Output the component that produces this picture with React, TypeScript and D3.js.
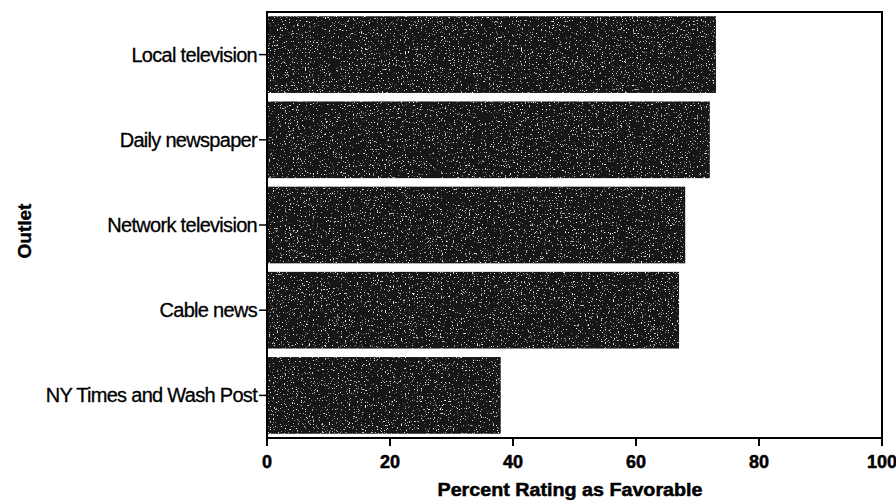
import React from "react";
import * as d3 from "d3";

const categories = ["Local television", "Daily newspaper", "Network television", "Cable news", "NY Times and Wash Post"];
const values = [73, 72, 68, 67, 38];
const xTicks = [0, 20, 40, 60, 80, 100];
const xTitle = "Percent Rating as Favorable";
const yTitle = "Outlet";

export default function App() {
  const W = 896, H = 502;
  const left = 267, right = 882, top = 12, bottom = 438;
  const x = d3.scaleLinear().domain([0, 100]).range([left, right]);
  const y = d3.scaleBand<string>().domain(categories).range([top, bottom]).paddingInner(0.1).paddingOuter(0.05);
  const font = "'Liberation Sans', Arial, sans-serif";
  return (
    <svg width={W} height={H} style={{ position: "absolute", left: 0, top: 0 }} viewBox={`0 0 ${W} ${H}`}>
      <defs>
        <filter id="grain" x="0" y="0" width="100%" height="100%">
          <feTurbulence type="fractalNoise" baseFrequency="0.75" numOctaves="2" seed="4" result="noise" />
          <feColorMatrix in="noise" type="matrix" values="0 0 0 0 1  0 0 0 0 1  0 0 0 0 1  7 0 0 0 -4.55" result="speck" />
          <feComposite in="speck" in2="SourceGraphic" operator="in" result="s2" />
          <feMerge>
            <feMergeNode in="SourceGraphic" />
            <feMergeNode in="s2" />
          </feMerge>
        </filter>
      </defs>
      <rect x={0} y={0} width={W} height={H} fill="#fff" />
      {categories.map((c, i) => (
        <rect key={c} x={x(0)} y={y(c)!} width={x(values[i]) - x(0)} height={y.bandwidth()} fill="#151515" filter="url(#grain)" />
      ))}
      <rect x={left} y={top} width={right - left} height={bottom - top} fill="none" stroke="#000" strokeWidth={2} />
      {categories.map((c) => {
        const cy = y(c)! + y.bandwidth() / 2;
        return (
          <g key={c}>
            <line x1={left - 8} x2={left} y1={cy} y2={cy} stroke="#000" strokeWidth={1.5} />
            <text x={left - 10} y={cy} dy="0.35em" textAnchor="end" fontFamily={font} fontSize={20} letterSpacing={-0.7} fill="#000" stroke="#000" strokeWidth={0.3}>{c}</text>
          </g>
        );
      })}
      {xTicks.map((t) => (
        <g key={t}>
          <line x1={x(t)} x2={x(t)} y1={bottom} y2={bottom + 8} stroke="#000" strokeWidth={2} />
          <text x={x(t)} y={bottom + 30} textAnchor="middle" fontFamily={font} fontWeight="bold" fontSize={18} fill="#000" stroke="#000" strokeWidth={0.5}>{t}</text>
        </g>
      ))}
      <text x={570} y={496} textAnchor="middle" fontFamily={font} fontWeight="bold" fontSize={18} textLength={265} lengthAdjust="spacingAndGlyphs" fill="#000" stroke="#000" strokeWidth={0.5}>{xTitle}</text>
      <text transform={`translate(31,231) rotate(-90)`} textAnchor="middle" fontFamily={font} fontWeight="bold" fontSize={19} fill="#000" stroke="#000" strokeWidth={0.4}>{yTitle}</text>
    </svg>
  );
}
